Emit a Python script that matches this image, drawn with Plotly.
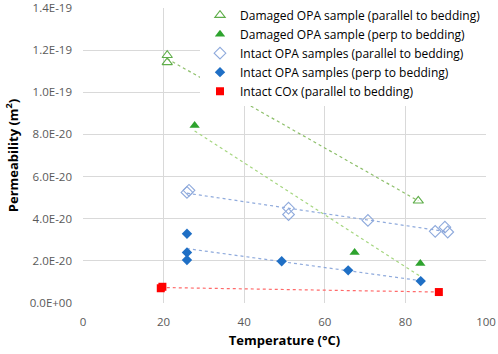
import numpy as np
import plotly.graph_objects as go

# Data (temperature in °C, permeability in m²)
dmg_par_T = [20.9, 20.9, 83.2]
dmg_par_k = [1.176e-19, 1.142e-19, 4.85e-20]

dmg_perp_T = [27.7, 67.4, 83.7]
dmg_perp_k = [8.42e-20, 2.40e-20, 1.88e-20]

int_par_T = [25.8, 26.3, 51.0, 51.0, 70.7, 87.4, 89.8, 90.5]
int_par_k = [5.25e-20, 5.35e-20, 4.50e-20, 4.20e-20, 3.92e-20, 3.40e-20, 3.60e-20, 3.37e-20]

int_perp_T = [25.8, 25.8, 25.8, 49.3, 65.8, 83.8]
int_perp_k = [3.29e-20, 2.40e-20, 2.04e-20, 1.98e-20, 1.55e-20, 1.04e-20]

cox_T = [19.3, 19.7, 88.3]
cox_k = [0.70e-20, 0.77e-20, 0.52e-20]

y_tickvals = [0, 2e-20, 4e-20, 6e-20, 8e-20, 1e-19, 1.2e-19, 1.4e-19]
y_ticktext = ["0.0E+00", "2.0E-20", "4.0E-20", "6.0E-20", "8.0E-20", "1.0E-19", "1.2E-19", "1.4E-19"]
x_tickvals = [0, 20, 40, 60, 80, 100]

series = [
    ("Damaged OPA sample (parallel to bedding)", dmg_par_T, dmg_par_k,
     dict(symbol="triangle-up-open", size=9, color="#5FAE4A", line=dict(width=1.1)), "#8DBF6A"),
    ("Damaged OPA sample (perp to bedding)", dmg_perp_T, dmg_perp_k,
     dict(symbol="triangle-up", size=9, color="#2EA32E"), "#A5D67F"),
    ("Intact OPA samples (parallel to bedding)", int_par_T, int_par_k,
     dict(symbol="diamond-open", size=9, color="#8FAADC", line=dict(width=1.1)), "#8FAADC"),
    ("Intact OPA samples (perp to bedding)", int_perp_T, int_perp_k,
     dict(symbol="diamond", size=8, color="#1F6FC5"), "#8FAADC"),
    ("Intact COx (parallel to bedding)", cox_T, cox_k,
     dict(symbol="square", size=8, color="#FF0000"), "#FF6A6A"),
]

fig = go.Figure()

# trendlines first (behind markers)
for name, T, k, mk, tcol in series:
    T_arr = np.array(T)
    k_arr = np.array(k)
    slope, icpt = np.polyfit(T_arr, k_arr, 1)
    xs = np.array([T_arr.min(), T_arr.max()])
    fig.add_trace(go.Scatter(x=xs, y=slope * xs + icpt, mode="lines",
                             line=dict(color=tcol, width=1.2, dash="dot"),
                             showlegend=False, hoverinfo="skip"))

for name, T, k, mk, tcol in series:
    fig.add_trace(go.Scatter(x=T, y=k, mode="markers", name=name, marker=mk))

fig.update_layout(
    width=498, height=354,
    margin=dict(l=83, r=12, t=8, b=51, autoexpand=False),
    paper_bgcolor="white", plot_bgcolor="white",
    font=dict(family="Open Sans, Liberation Sans, sans-serif", color="#595959"),
    showlegend=True,
    legend=dict(x=1.0, y=1.025, xanchor="right", yanchor="top",
                bgcolor="white", font=dict(size=12, color="#000000"),
                itemwidth=30, tracegroupgap=0),
    xaxis=dict(range=[0, 100], tickvals=x_tickvals,
               showgrid=True, gridcolor="#D9D9D9", gridwidth=1,
               zeroline=False, showline=False, ticks="",
               ticklabelstandoff=10, ticklabeloverflow="allow",
               tickfont=dict(size=11.5, color="#595959"),
               title=dict(text="<b>Temperature (°C)</b>", font=dict(size=13, color="#000000"), standoff=8)),
    yaxis=dict(range=[0, 1.4002e-19], tickvals=y_tickvals, ticktext=y_ticktext,
               showgrid=True, gridcolor="#D9D9D9", gridwidth=1,
               zeroline=False, showline=False, ticks="",
               ticklabelstandoff=10, ticklabeloverflow="allow",
               tickfont=dict(size=11.5, color="#595959"),
               title=dict(text="<b>Permeability (m<sup>2</sup>)</b>", font=dict(size=13, color="#000000"), standoff=8)),
)

fig.write_html("out.html", config={"displayModeBar": False},
               post_script="document.body.style.margin='0';")
